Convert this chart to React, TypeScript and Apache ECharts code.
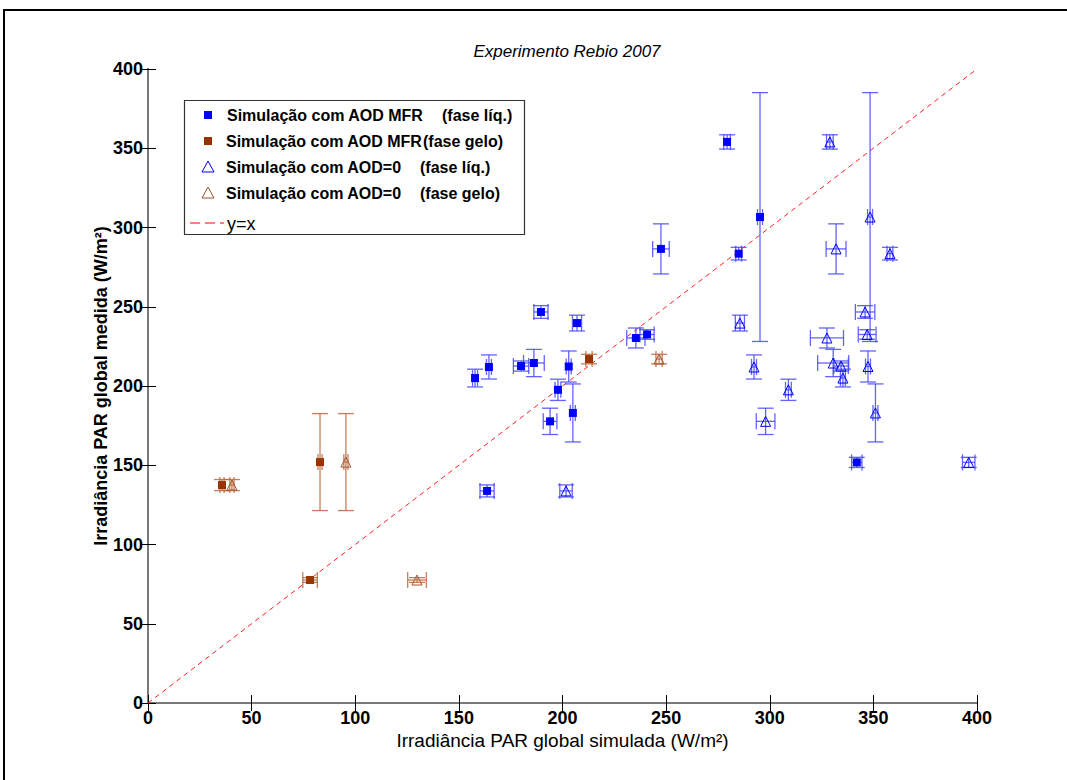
import React, { useEffect, useRef } from "react";
import * as echarts from "echarts";

// Axis ticks (W/m²)
const xTicks = [0, 50, 100, 150, 200, 250, 300, 350, 400];
const yTicks = [0, 50, 100, 150, 200, 250, 300, 350, 400];

// Liquid phase cases: measured PAR and its uncertainty
const liqMeasured = [354, 306.6, 286.5, 283.5, 246.7, 232.5, 230.3, 239.7, 214.5, 212.6, 212, 205, 212.3, 197.6, 183, 177.7, 133.8, 151.8];
const liqMeasuredErr = [4.5, 78.5, 15.8, 4, 4, 3, 6.3, 5, 8.6, 3.2, 7.6, 5.6, 9.8, 6.7, 18.3, 8.3, 3.8, 3.2];
// Liquid phase: simulation with MFR aerosol optical depth
const liqSimMFR = [279.4, 295.3, 247.5, 285.0, 189.6, 240.8, 235.4, 207.0, 186.2, 180.0, 164.5, 157.8, 203.0, 197.8, 205.0, 194.0, 163.6, 342.0];
const liqSimMFRErr = [1.6, 1.2, 4, 1.4, 3.4, 3.4, 4.4, 2.2, 5, 3.7, 1.2, 1.2, 1.2, 1.4, 1.2, 3.3, 3.4, 2.5];
// Liquid phase: simulation with AOD = 0
const liqSimAOD0 = [329, 348.4, 332, 358, 346, 347, 327.6, 285.6, 330.6, 334.4, 292.4, 335.3, 347.4, 309, 351, 298, 201.7, 396];
const liqSimAOD0Err = [1.6, 1.2, 4.8, 1.4, 4.7, 4.3, 8, 2.2, 7.5, 3.5, 1.2, 1.2, 1.2, 1.4, 1.2, 4.5, 3, 3];

// Ice phase cases
const iceMeasured = [137.5, 152, 77.6, 217];
const iceMeasuredErr = [3.5, 30.6, 1.5, 3];
const iceSimMFR = [35.7, 83, 78.2, 212.8];
const iceSimMFRErr = [1, 1, 3.5, 1.5];
const iceSimAOD0 = [40.5, 95.5, 129.8, 246.6];
const iceSimAOD0Err = [1, 1, 4.5, 1.5];

// Reference line y = x
const identityLine = [
  [0, 0],
  [400, 400],
];

const BLUE = "#0000ff";
const BLUE_BAR = "#4848ff";
const BROWN = "#993300";
const BROWN_TRI = "#a0522d";
const BROWN_BAR = "#b8683e";

const FONT = "'Liberation Sans', Arial, sans-serif";

function points(sim: number[], simErr: number[], meas: number[], measErr: number[]) {
  return sim.map((x, i) => [x, meas[i], simErr[i], measErr[i]]);
}

function errorBars(color: string) {
  return (params: any, api: any) => {
    const x = api.value(0);
    const y = api.value(1);
    const ex = api.value(2);
    const ey = api.value(3);
    const c = api.coord([x, y]);
    const left = api.coord([x - ex, y])[0];
    const right = api.coord([x + ex, y])[0];
    const top = api.coord([x, y + ey])[1];
    const bottom = api.coord([x, y - ey])[1];
    const cap = 8;
    const style = { stroke: color, lineWidth: 1.3, opacity: 0.85 };
    const seg = (x1: number, y1: number, x2: number, y2: number) => ({
      type: "line",
      shape: { x1, y1, x2, y2 },
      style,
    });
    return {
      type: "group",
      children: [
        seg(c[0], top, c[0], bottom),
        seg(c[0] - cap, top, c[0] + cap, top),
        seg(c[0] - cap, bottom, c[0] + cap, bottom),
        seg(left, c[1], right, c[1]),
        seg(left, c[1] - cap, left, c[1] + cap),
        seg(right, c[1] - cap, right, c[1] + cap),
      ],
    };
  };
}

function legendGraphic() {
  const bold = { fontFamily: FONT, fontWeight: "bold", fontSize: 16, fill: "#000" } as any;
  const rows = [115, 141, 167, 193, 223];
  const mx = 208;
  const tx = 227;
  const text = (x: number, y: number, t: string, extra: any = {}) => ({
    type: "text",
    x,
    y,
    style: { ...bold, text: t, verticalAlign: "middle", align: "left", ...extra },
  });
  const tri = (cx: number, cy: number, color: string) => ({
    type: "polygon",
    shape: { points: [[cx, cy - 6], [cx + 6, cy + 5], [cx - 6, cy + 5]] },
    style: { fill: "none", stroke: color, lineWidth: 1 },
  });
  return [
    {
      type: "rect",
      shape: { x: 184.5, y: 100.5, width: 340, height: 134 },
      style: { fill: "#fff", stroke: "#333", lineWidth: 1.2 },
    },
    { type: "rect", shape: { x: mx - 4, y: rows[0] - 4, width: 8, height: 8 }, style: { fill: BLUE } },
    text(tx, rows[0], "Simulação com AOD MFR"),
    text(442, rows[0], "(fase líq.)"),
    { type: "rect", shape: { x: mx - 4, y: rows[1] - 4, width: 8, height: 8 }, style: { fill: BROWN } },
    text(tx - 1, rows[1], "Simulação com AOD MFR"),
    text(423, rows[1], "(fase gelo)"),
    tri(mx, rows[2], BLUE),
    text(tx - 1, rows[2], "Simulação com AOD=0"),
    text(420, rows[2], "(fase líq.)"),
    tri(mx, rows[3], BROWN_TRI),
    text(tx - 1, rows[3], "Simulação com AOD=0"),
    text(420, rows[3], "(fase gelo)"),
    {
      type: "line",
      shape: { x1: 190, y1: rows[4], x2: 224, y2: rows[4] },
      style: { stroke: "#ff0000", lineWidth: 1, lineDash: [10, 5] },
    },
    text(tx, rows[4] + 1, "y=x", { fontWeight: "normal", fontSize: 18 }),
  ];
}

export default function App() {
  const ref = useRef<HTMLDivElement>(null);

  useEffect(() => {
    if (!ref.current) return;
    const chart = echarts.init(ref.current, null, { renderer: "svg" });

    const axisLine = { show: true, lineStyle: { color: "#7a7a7a", width: 2 } };
    const axisTick = { show: true, inside: true, length: 8, lineStyle: { color: "#000", width: 1 } };
    const labelStyle = { color: "#000", fontFamily: FONT, fontWeight: "bold", fontSize: 18 };

    const markerSeries = (name: string, data: number[][], symbol: string, color: string, filled: boolean) => ({
      name,
      type: "scatter",
      data: data.map((d) => [d[0], d[1]]),
      symbol,
      symbolSize: filled ? 8 : 10,
      itemStyle: filled
        ? { color, opacity: 1 }
        : { color: "rgba(0,0,0,0)", borderColor: color, borderWidth: 1, opacity: 1 },
      z: 4,
    });

    const barSeries = (data: number[][], color: string) => ({
      type: "custom",
      renderItem: errorBars(color),
      data,
      encode: { x: 0, y: 1 },
      z: 3,
      silent: true,
    });

    const liqMFR = points(liqSimMFR, liqSimMFRErr, liqMeasured, liqMeasuredErr);
    const iceMFR = points(iceSimMFR, iceSimMFRErr, iceMeasured, iceMeasuredErr);
    const liqA0 = points(liqSimAOD0, liqSimAOD0Err, liqMeasured, liqMeasuredErr);
    const iceA0 = points(iceSimAOD0, iceSimAOD0Err, iceMeasured, iceMeasuredErr);

    chart.setOption({
      animation: false,
      backgroundColor: "#fff",
      title: {
        text: "Experimento Rebio 2007",
        left: 562,
        textAlign: "center",
        top: 38,
        textStyle: { fontFamily: FONT, fontStyle: "italic", fontWeight: "normal", fontSize: 17, color: "#000" },
      },
      grid: { left: 148, right: 90, top: 69, bottom: 77, containLabel: false },
      xAxis: [
        {
          type: "value",
          min: xTicks[0],
          max: xTicks[xTicks.length - 1],
          interval: 50,
          position: "bottom",
          axisLine,
          axisTick,
          axisLabel: { ...labelStyle, margin: 6 },
          splitLine: { show: false },
          name: "Irradiância PAR global simulada (W/m²)",
          nameLocation: "middle",
          nameGap: 28,
          nameMoveOverlap: false,
          nameTextStyle: { fontFamily: FONT, fontSize: 19, color: "#000" },
        },
        {
          type: "value",
          min: xTicks[0],
          max: xTicks[xTicks.length - 1],
          interval: 50,
          position: "top",
          axisLine,
          axisTick,
          axisLabel: { show: false },
          splitLine: { show: false },
        },
      ],
      yAxis: [
        {
          type: "value",
          min: yTicks[0],
          max: yTicks[yTicks.length - 1],
          interval: 50,
          position: "left",
          axisLine,
          axisTick,
          axisLabel: { ...labelStyle, margin: 5 },
          splitLine: { show: false },
          name: "Irradiância PAR global medida (W/m²)",
          nameLocation: "middle",
          nameGap: 38,
          nameMoveOverlap: false,
          nameTextStyle: { fontFamily: FONT, fontWeight: "bold", fontSize: 18, color: "#000" },
        },
        {
          type: "value",
          min: yTicks[0],
          max: yTicks[yTicks.length - 1],
          interval: 50,
          position: "right",
          axisLine,
          axisTick,
          axisLabel: { show: false },
          splitLine: { show: false },
        },
      ],
      graphic: [
        {
          type: "rect",
          shape: { x: 4, y: 10, width: 1200, height: 900 },
          style: { fill: "none", stroke: "#000", lineWidth: 2 },
          z: 100,
        },
        ...legendGraphic().map((g: any) => ({ ...g, z: 101 })),
      ],
      series: [
        {
          name: "y=x",
          type: "line",
          data: identityLine,
          symbol: "none",
          lineStyle: { color: "#ff2020", width: 1, type: [5, 4] },
          z: 2,
          silent: true,
        },
        barSeries(liqMFR, BLUE_BAR),
        barSeries(liqA0, BLUE_BAR),
        barSeries(iceMFR, BROWN_BAR),
        barSeries(iceA0, BROWN_BAR),
        markerSeries("Simulação com AOD MFR (fase líq.)", liqMFR, "rect", BLUE, true),
        markerSeries("Simulação com AOD MFR (fase gelo)", iceMFR, "rect", BROWN, true),
        markerSeries("Simulação com AOD=0 (fase líq.)", liqA0, "triangle", BLUE, false),
        markerSeries("Simulação com AOD=0 (fase gelo)", iceA0, "triangle", BROWN_TRI, false),
      ],
    });

    return () => chart.dispose();
  }, []);

  return (
    <div
      ref={ref}
      style={{ position: "fixed", left: 0, top: 0, width: 1067, height: 780, background: "#fff" }}
    />
  );
}
